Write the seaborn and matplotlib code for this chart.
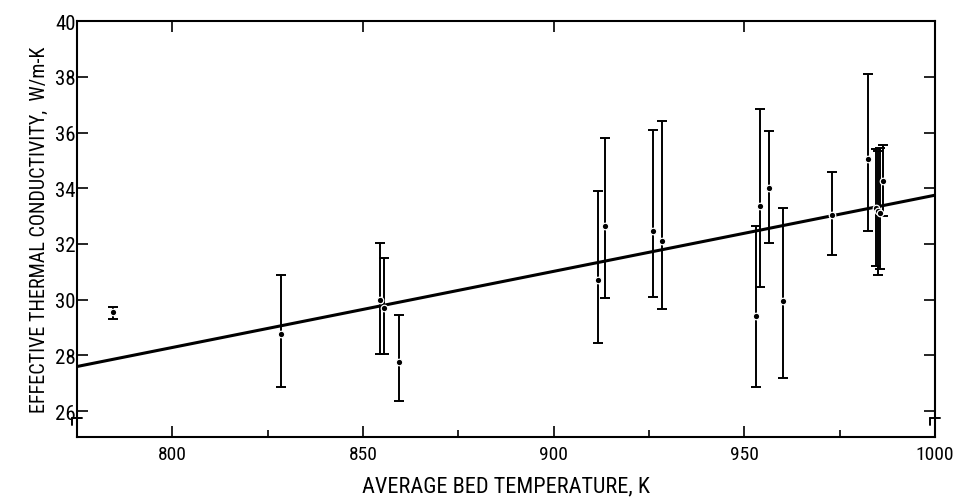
import matplotlib
matplotlib.use("Agg")
import matplotlib.pyplot as plt
import seaborn as sns
import pandas as pd
from matplotlib import font_manager
from matplotlib.font_manager import FontProperties

# ---- data ----
temperature = [784.5, 828.5, 854.5, 855.5, 859.5, 911.5, 913.4, 926.0, 928.3,
               953.1, 954.2, 956.5, 960.2, 973.0, 982.5, 984.5, 985.0, 985.5, 986.3]
conductivity = [29.55, 28.75, 30.0, 29.7, 27.75, 30.7, 32.65, 32.45, 32.1,
                29.4, 33.35, 34.0, 29.95, 33.05, 35.05, 33.3, 33.2, 33.1, 34.25]
err_low = [29.3, 26.85, 28.05, 28.05, 26.35, 28.45, 30.05, 30.1, 29.65,
           26.85, 30.45, 32.05, 27.2, 31.6, 32.45, 31.2, 30.9, 31.1, 33.0]
err_high = [29.75, 30.9, 32.05, 31.5, 29.45, 33.9, 35.8, 36.1, 36.4,
            32.65, 36.85, 36.05, 33.3, 34.6, 38.1, 35.4, 35.35, 35.45, 35.55]
fit_temp = [775, 1000]
fit_k = [27.6, 33.75]
x_ticks = [800, 850, 900, 950, 1000]
y_ticks = [26, 28, 30, 32, 34, 36, 38, 40]

sns.set_theme(style="ticks")

# choose a narrow font if one is installed
fam = "DejaVu Sans"
stretch = "normal"
for cand in ["Liberation Sans Narrow", "Roboto Condensed", "Open Sans Condensed"]:
    try:
        font_manager.findfont(FontProperties(family=cand), fallback_to_default=False)
        fam = cand
        break
    except Exception:
        pass
if fam == "DejaVu Sans":
    p = font_manager.findfont(FontProperties(family="DejaVu Sans", stretch="condensed"))
    if "ondensed" in p:
        stretch = "condensed"
plt.rcParams["font.family"] = [fam, "DejaVu Sans"]
plt.rcParams["font.stretch"] = stretch
plt.rcParams["text.color"] = "black"
plt.rcParams["axes.labelcolor"] = "black"
plt.rcParams["xtick.color"] = "black"
plt.rcParams["ytick.color"] = "black"

df = pd.DataFrame({"T": temperature, "k": conductivity, "lo": err_low, "hi": err_high})
fit = pd.DataFrame({"T": fit_temp, "k": fit_k})

fig = plt.figure(figsize=(9.59, 5.02), dpi=100)
ax = fig.add_axes([0.0803, 0.1275, 0.8947, 0.8285])

sns.lineplot(data=fit, x="T", y="k", color="black", linewidth=2.2, ax=ax)
ax.errorbar(df["T"], df["k"], yerr=[df["k"] - df["lo"], df["hi"] - df["k"]],
            fmt="none", ecolor="black", elinewidth=1.4, capsize=3.5, capthick=1.4)
sns.scatterplot(data=df, x="T", y="k", color="black", s=22, edgecolor="white",
                linewidth=0.9, ax=ax, zorder=5)

ax.set_xlim(775, 1000)
ax.set_ylim(25.07, 40)
ax.set_xticks(x_ticks)
ax.set_xticklabels([str(t) for t in x_ticks], fontsize=14)
ax.set_xticks([825, 875, 925, 975], minor=True)
ax.set_yticks(y_ticks)
ax.set_yticklabels([str(t) for t in y_ticks], fontsize=15)
ax.tick_params(axis="both", which="major", direction="in", length=8, width=1.2,
               top=True, right=True, pad=6)
ax.tick_params(axis="y", which="major", pad=1)
ax.tick_params(axis="x", which="minor", direction="in", length=5, width=1.2,
               top=False, bottom=True)
for s in ax.spines.values():
    s.set_linewidth(1.5)
    s.set_color("black")

ax.set_xlabel("AVERAGE BED TEMPERATURE, K", fontsize=16, labelpad=9)
ax.set_ylabel("EFFECTIVE THERMAL CONDUCTIVITY,  W/m-K", fontsize=14.5, labelpad=4)

# axis-break marks near the bottom corners
for xa in (0.0, 1.0):
    ax.plot([xa - 0.006, xa + 0.006], [0.045, 0.045], transform=ax.transAxes,
            color="black", linewidth=1.4, clip_on=False)
    ax.plot([xa - 0.006, xa - 0.006], [0.045, 0.03], transform=ax.transAxes,
            color="black", linewidth=1.4, clip_on=False)

fig.savefig("out.png", dpi=100)
